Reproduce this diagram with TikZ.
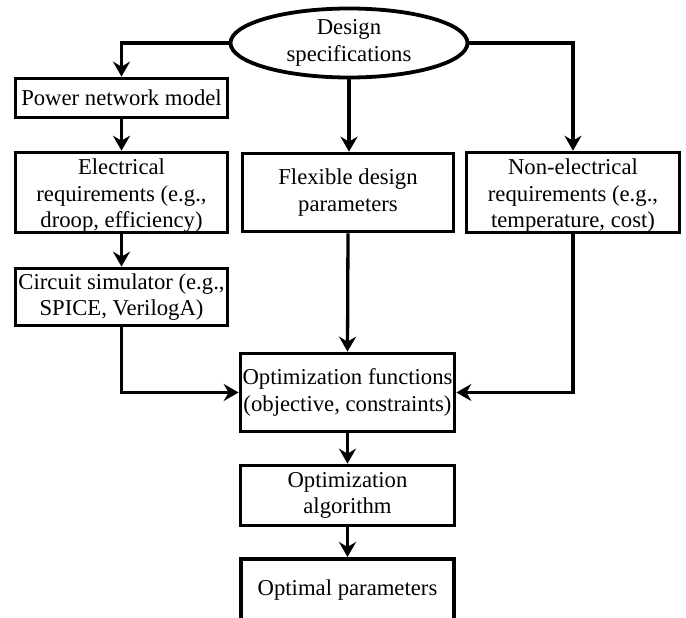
\documentclass[tikz,border=0pt]{standalone}
\usepackage{fontspec}
\setmainfont{Liberation Serif}
\usetikzlibrary{arrows.meta,shapes.geometric}
\begin{document}
\begin{tikzpicture}[x=1pt,y=-1pt,
  lbl/.style={font=\fontsize{22.7}{26.5}\selectfont, align=center, inner sep=0pt},
  box/.style={lbl, draw, line width=3.7pt, rectangle},
  arr/.style={line width=3.3pt, -{Stealth[length=15pt,width=17pt,inset=5pt]}},
  boxline/.style={line width=3.7pt, line join=miter}]
\useasboundingbox (0,0) rectangle (686,618);
\node[lbl, draw, ellipse, line width=3.8pt, minimum width=237pt, minimum height=69pt] (ds) at (349,43) {Design\\specifications};
\node[box, minimum width=212pt, minimum height=39pt] (pw) at (121.5,98) {Power network model};
\node[box, minimum width=212pt, minimum height=78pt] (el) at (121.5,192.5) {\rule{0pt}{22pt}Electrical\\requirements (e.g.,\\droop, efficiency)};
\node[box, minimum width=211pt, minimum height=78pt] (fx) at (348,192.5) {Flexible design\\parameters};
\node[box, minimum width=213pt, minimum height=78pt] (ne) at (573,192.5) {\rule{0pt}{22pt}Non-electrical\\requirements (e.g.,\\temperature, cost)};
\node[box, minimum width=212pt, minimum height=57pt] (cs) at (121.5,297) {Circuit simulator (e.g.,\\SPICE, VerilogA)};
\node[box, minimum width=214pt, minimum height=78pt] (of) at (347.5,392.5) {Optimization functions\\(objective, constraints)};
\node[box, minimum width=214pt, minimum height=60pt] (oa) at (347.5,495.5) {Optimization\\algorithm};
\node[lbl] (op) at (347.5,590) {Optimal parameters};
\coordinate (optop) at (347.5,557);
\coordinate (opl) at (241,625);
\coordinate (opr) at (454,625);
\draw[boxline] (opl) |- ([yshift=-1.85pt]optop) -| (opr);
\draw[arr] (ds.west) -| (pw.north);
\draw[arr] (ds.east) -| (ne.north);
\draw[arr] (ds.south) -- (ds.south |- fx.north);
\draw[arr] (pw.south) -- (el.north);
\draw[arr] (el.south) -- (cs.north);
\draw[arr] (cs.south) |- (of.west);
\draw[arr] (fx.south) -- (of.north);
\draw[arr] (ne.south) |- (of.east);
\draw[arr] (of.south) -- (oa.north);
\draw[arr] (oa.south) -- (optop);
\end{tikzpicture}
\end{document}
